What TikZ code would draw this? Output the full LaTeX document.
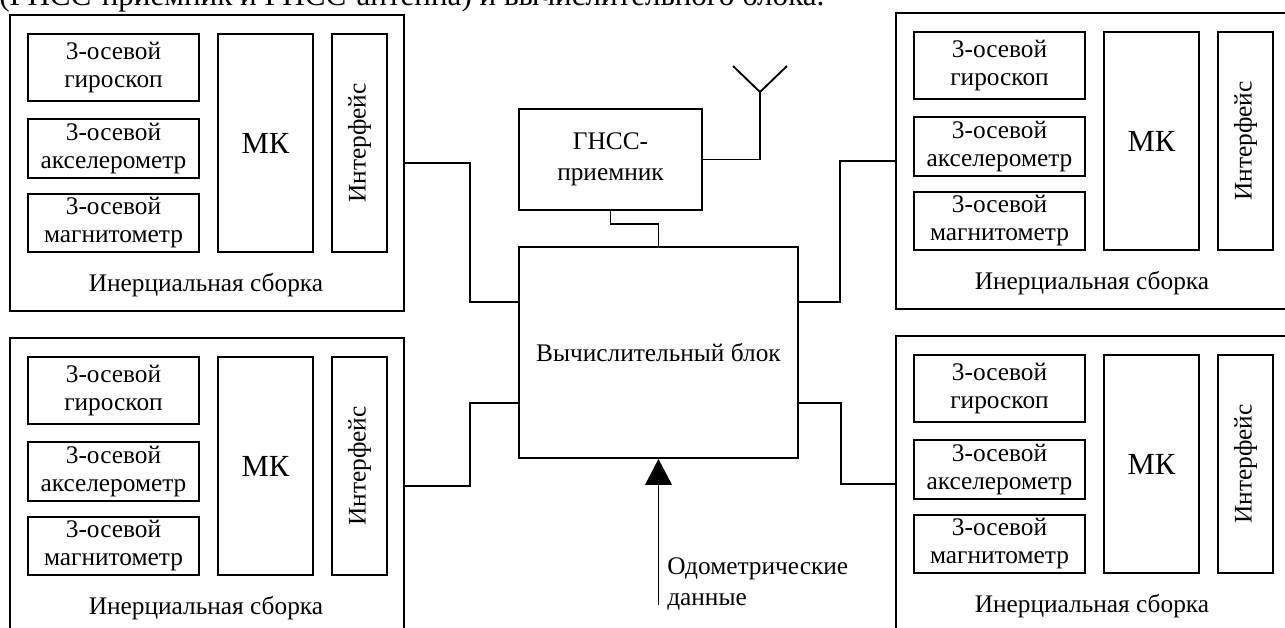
\documentclass[tikz,border=0pt]{standalone}
\usepackage{fontspec}
\setmainfont{Liberation Serif}
\usetikzlibrary{arrows.meta}

\begin{document}
\begin{tikzpicture}[x=0.75pt, y=-0.75pt,
  box/.style={draw, line width=1.4pt, inner sep=0pt, align=center, font=\fontsize{19}{21}\selectfont},
  txt/.style={inner sep=0pt, align=center, font=\fontsize{19}{21}\selectfont},
  wire/.style={line width=1.4pt}]

\def\pxu{0.75pt}

\path [use as bounding box] (0,0) rectangle (1285,628);
\clip (0,0) rectangle (1285,628);

% PAGE TEXT
\node (page) [anchor=base west, inner sep=0pt, font=\fontsize{23.3}{27}\selectfont] at (-1,5) {(ГНСС-приемник и ГНСС-антенна) и вычислительного блока.};

% INERTIAL UNITS
\foreach \n/\ox/\oy in {tl/9/14, tr/895/12, bl/9/337, br/895/335} {
  \node (\n) [box, anchor=north west, minimum width=394*\pxu, minimum height=296*\pxu] at (\ox,\oy) {};
  \node (\n-gyro) [box, minimum width=171*\pxu, minimum height=67*\pxu] at (\ox+104.5,\oy+53.5) {3-осевой\\гироскоп};
  \node (\n-acc) [box, minimum width=171*\pxu, minimum height=59*\pxu] at (\ox+104.5,\oy+134.5) {3-осевой\\акселерометр};
  \node (\n-mag) [box, minimum width=171*\pxu, minimum height=58*\pxu] at (\ox+104.5,\oy+209) {3-осевой\\магнитометр};
  \node (\n-mk) [box, minimum width=95*\pxu, minimum height=218*\pxu, font=\fontsize{23}{26}\selectfont] at (\ox+256.5,\oy+129) {МК};
  \node (\n-if) [box, minimum width=55*\pxu, minimum height=218*\pxu] at (\ox+350.5,\oy+129) {};
  \node (\n-iftxt) [txt, rotate=90] at (\n-if) {Интерфейс};
  \node (\n-lbl) [txt] at (\ox+197,\oy+271) {Инерциальная сборка};
}

% CENTRE
\node (vb) [box, minimum width=279*\pxu, minimum height=211*\pxu] at (658.5,352.5) {Вычислительный блок};
\node (gnss) [box, minimum width=183*\pxu, minimum height=101*\pxu] at (610.5,159.5) {ГНСС-\\[2pt]приемник};

% ANTENNA
\coordinate (ant) at (760,92);
\draw [wire] (gnss.east) -| (ant);
\draw [wire] (ant) -- ++(-27,-26);
\draw [wire] (ant) -- ++(27,-26);

% LINKS
\draw [wire] (gnss.south) -- ++(0,13) -| (vb.north);
\draw [wire] (tl.east) -- ++(65,0) |- ([yshift=50.5*\pxu]vb.west);
\draw [wire] (bl.east) -- ++(65,0) |- ([yshift=-50.5*\pxu]vb.west);
\draw [wire] ([yshift=50.5*\pxu]vb.east) -- ++(41,0) |- (tr.west);
\draw [wire] ([yshift=-50.5*\pxu]vb.east) -- ++(42,0) |- (br.west);

% ODOMETRY
\coordinate (odo) at (658.5,605);
\draw [wire, -{Triangle[length=19.5pt, width=20pt]}] (odo) -- (vb.south);
\node (odotxt) [txt, anchor=west, align=left] at (667,584) {Одометрические\\[2pt]данные};

\end{tikzpicture}
\end{document}
